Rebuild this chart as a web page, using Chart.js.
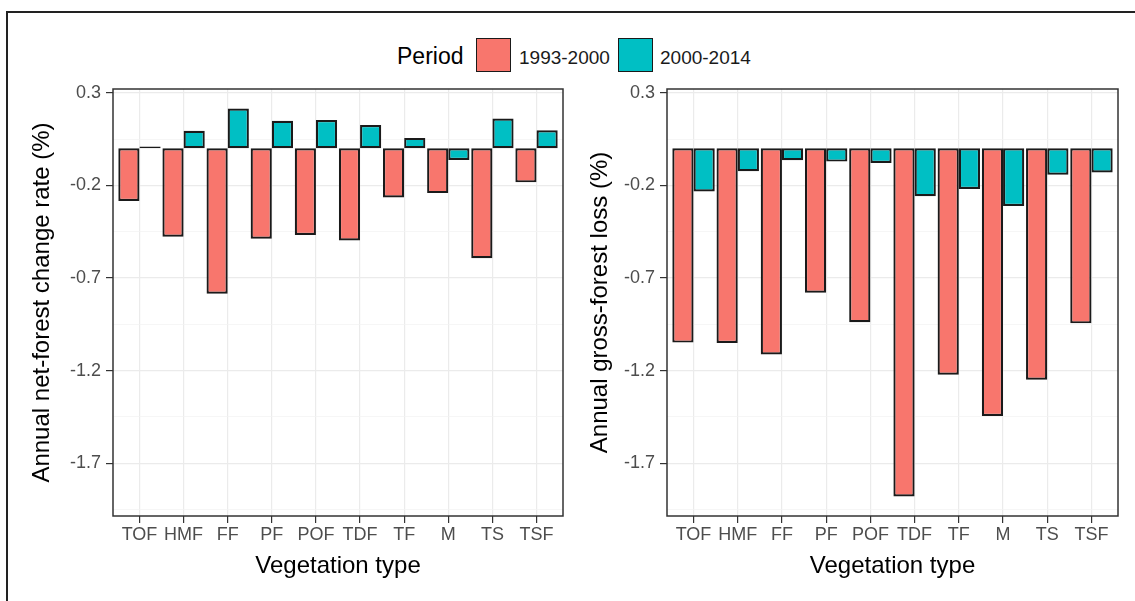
<!DOCTYPE html>
<html>
<head>
<meta charset="utf-8">
<script src="https://cdn.jsdelivr.net/npm/chart.js@4"></script>
<style>
  body { margin: 0; background: #fff; font-family: "Liberation Sans", Arial, sans-serif; }
  #wrap { position: relative; width: 1135px; height: 601px; overflow: hidden; }
  #frame { position: absolute; left: 6px; top: 11px; width: 1200px; height: 700px;
           border-top: 2px solid #222; border-left: 2px solid #222; }
  canvas { position: absolute; top: 0; }
  .lg { position: absolute; white-space: nowrap; line-height: 1; }
  .sw { position: absolute; width: 33px; height: 32px; border: 1.6px solid #1a1a1a; }
</style>
</head>
<body>
<div id="wrap">
  <div id="frame"></div>
  <div class="lg" style="left:397px; top:45px; font-size:23px;">Period</div>
  <div class="sw" style="left:476px; top:38px; background:#F8766D;"></div>
  <div class="lg" style="left:519px; top:48px; font-size:19px; color:#1a1a1a;">1993-2000</div>
  <div class="sw" style="left:618px; top:38px; background:#00BFC4;"></div>
  <div class="lg" style="left:660px; top:48px; font-size:19px; color:#1a1a1a;">2000-2014</div>
  <canvas id="netChart" width="565" height="601" style="left:0;"></canvas>
  <canvas id="lossChart" width="570" height="601" style="left:565px;"></canvas>
</div>
<script>
// vegetation types
const categories = ['TOF', 'HMF', 'FF', 'PF', 'POF', 'TDF', 'TF', 'M', 'TS', 'TSF'];
const periods = ['1993-2000', '2000-2014'];

// annual net-forest change rate (%)
const net1993 = [-0.284, -0.477, -0.785, -0.488, -0.468, -0.498, -0.266, -0.242, -0.593, -0.184];
const net2000 = [0.01, 0.094, 0.215, 0.149, 0.152, 0.126, 0.056, -0.063, 0.161, 0.097];

// annual gross-forest loss (%)
const loss1993 = [-1.049, -1.051, -1.113, -0.780, -0.939, -1.880, -1.222, -1.445, -1.249, -0.945];
const loss2000 = [-0.233, -0.124, -0.065, -0.072, -0.079, -0.259, -0.220, -0.311, -0.143, -0.131];

const yMajor = [-1.7, -1.2, -0.7, -0.2, 0.3];
const yMinor = [-1.95, -1.45, -0.95, -0.45, 0.05];

Chart.defaults.font.family = '"Liberation Sans", Arial, sans-serif';

// ggplot-like panel border
const panelBorder = {
    id: 'panelBorder',
    afterDatasetsDraw(chart) {
        const a = chart.chartArea;
        const c = chart.ctx;
        c.save();
        c.strokeStyle = '#333333';
        c.lineWidth = 1.5;
        c.strokeRect(a.left, a.top, a.right - a.left, a.bottom - a.top);
        c.restore();
    }
};

function makePanel(id, first, second, yTitle, axisWidth, titlePad, padRight) {
    const toXY = arr => arr.map((v, i) => ({ x: i + 1, y: v }));
    return new Chart(document.getElementById(id), {
        type: 'bar',
        data: {
            datasets: [
                { label: periods[0], data: toXY(first), backgroundColor: '#F8766D',
                  borderColor: '#1a1a1a', borderWidth: 2.2, borderSkipped: false },
                { label: periods[1], data: toXY(second), backgroundColor: '#00BFC4',
                  borderColor: '#1a1a1a', borderWidth: 2.2, borderSkipped: false }
            ]
        },
        options: {
            responsive: false,
            animation: false,
            categoryPercentage: 0.96,
            barPercentage: 1,
            layout: { padding: { top: 89, right: padRight, bottom: 0, left: 0 } },
            plugins: {
                legend: { display: false },
                tooltip: { enabled: false }
            },
            scales: {
                x: {
                    type: 'linear',
                    min: 0.4,
                    max: 10.6,
                    offset: false,
                    afterBuildTicks: s => { s.ticks = categories.map((c, i) => ({ value: i + 1 })); },
                    afterFit: s => { s.height = 85; },
                    border: { display: false },
                    grid: { offset: false, color: '#EBEBEB', lineWidth: 1.2, tickLength: 7, tickColor: '#333333' },
                    ticks: {
                        autoSkip: false, maxRotation: 0, padding: 1,
                        color: '#4D4D4D', font: { size: 18 },
                        callback: v => categories[Math.round(v) - 1]
                    },
                    title: {
                        display: true, text: 'Vegetation type', color: '#000',
                        font: { size: 24 }, padding: { top: 0, bottom: 20 }
                    }
                },
                y: {
                    min: -1.985,
                    max: 0.32,
                    afterBuildTicks: s => {
                        const t = yMajor.map(v => ({ value: v }))
                            .concat(yMinor.map(v => ({ value: v, minor: true })));
                        t.sort((a, b) => a.value - b.value);
                        s.ticks = t;
                    },
                    afterFit: s => { s.width = axisWidth; },
                    border: { display: false },
                    grid: {
                        color: ctx => ctx.tick && ctx.tick.minor ? '#F2F2F2' : '#EBEBEB',
                        lineWidth: ctx => ctx.tick && ctx.tick.minor ? 0.7 : 1.2,
                        tickLength: 7,
                        tickColor: ctx => ctx.tick && ctx.tick.minor ? 'rgba(0,0,0,0)' : '#333333'
                    },
                    ticks: {
                        autoSkip: false, padding: 5,
                        color: '#4D4D4D', font: { size: 18 },
                        callback: (v, i, ticks) => ticks[i].minor ? '' : v.toFixed(1)
                    },
                    title: {
                        display: true, text: yTitle, color: '#000',
                        font: { size: 24 }, padding: { top: titlePad, bottom: 0 }
                    }
                }
            }
        },
        plugins: [panelBorder]
    });
}

makePanel('netChart', net1993, net2000, 'Annual net-forest change rate (%)', 113, 28, 2);
makePanel('lossChart', loss1993, loss2000, 'Annual gross-forest loss (%)', 102, 21, 17);
</script>
</body>
</html>
